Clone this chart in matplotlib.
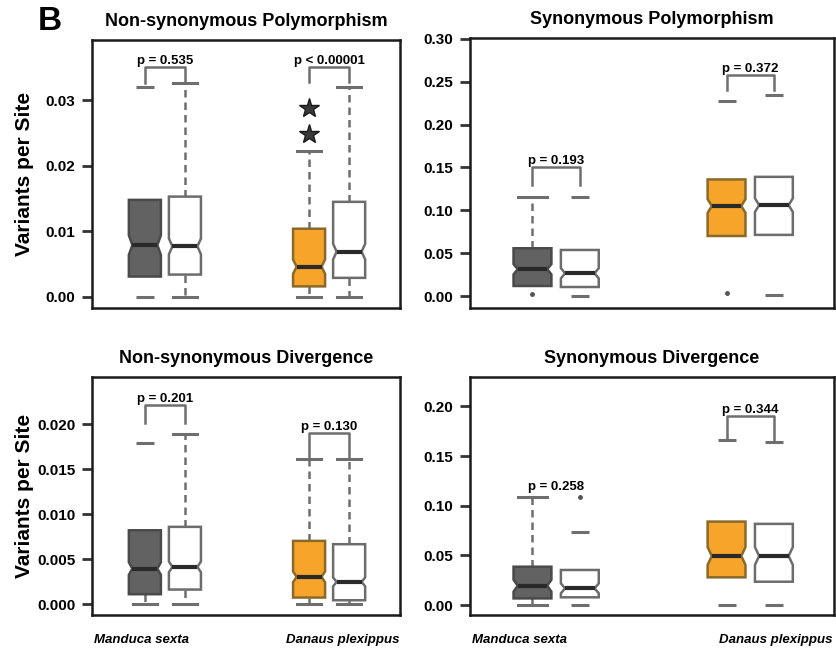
import matplotlib
matplotlib.use("Agg")
import matplotlib.pyplot as plt
from matplotlib.patches import Polygon

plt.rcParams['font.family'] = ['Liberation Sans', 'DejaVu Sans']

# order of boxes: M. sexta (filled), M. sexta (open), D. plexippus (filled), D. plexippus (open)
species = ["Manduca sexta", "Danaus plexippus"]
titles = ["Non-synonymous Polymorphism", "Synonymous Polymorphism",
          "Non-synonymous Divergence", "Synonymous Divergence"]

# Non-synonymous polymorphism
nsp_q1 = [0.0031, 0.0034, 0.0016, 0.0029]
nsp_med = [0.0079, 0.0077, 0.0046, 0.0069]
nsp_q3 = [0.0148, 0.0153, 0.0104, 0.0145]
nsp_notch = [0.0015, 0.0012, 0.0011, 0.0012]
nsp_whislo = [None, 0.0, 0.0, 0.0]
nsp_whishi = [None, 0.0327, 0.0222, 0.0320]
nsp_dash = [[0.0, 0.032], [], [], []]
nsp_dot = [[], [], [], []]
nsp_star = [[], [], [0.0248, 0.0288], []]
nsp_p = ["p = 0.535", "p < 0.00001"]
nsp_bar = [0.0351, 0.0351]
nsp_leg = [0.0327, 0.0328]

# Synonymous polymorphism
sp_q1 = [0.0117, 0.0105, 0.070, 0.0713]
sp_med = [0.0312, 0.0265, 0.105, 0.106]
sp_q3 = [0.0557, 0.0537, 0.136, 0.139]
sp_notch = [0.006, 0.006, 0.008, 0.008]
sp_whislo = [None, None, None, None]
sp_whishi = [0.115, None, None, None]
sp_dash = [[], [0.115, 0.0], [0.228], [0.234, 0.001]]
sp_dot = [[0.002], [], [0.003], []]
sp_star = [[], [], [], []]
sp_p = ["p = 0.193", "p = 0.372"]
sp_bar = [0.151, 0.258]
sp_leg = [0.130, 0.240]

# Non-synonymous divergence
nsd_q1 = [0.00111, 0.00163, 0.00074, 0.00044]
nsd_med = [0.00396, 0.00415, 0.00304, 0.00248]
nsd_q3 = [0.00822, 0.0086, 0.00704, 0.00667]
nsd_notch = [0.0007, 0.0006, 0.0006, 0.0005]
nsd_whislo = [0.0, 0.0, 0.0, 0.0]
nsd_whishi = [None, 0.01896, 0.0161, 0.0161]
nsd_dash = [[0.0179], [], [], []]
nsd_dot = [[], [], [], []]
nsd_star = [[], [], [], []]
nsd_p = ["p = 0.201", "p = 0.130"]
nsd_bar = [0.0221, 0.0190]
nsd_leg = [0.0201, 0.0164]

# Synonymous divergence
sd_q1 = [0.0067, 0.0078, 0.0279, 0.0235]
sd_med = [0.0195, 0.0168, 0.0494, 0.0494]
sd_q3 = [0.0386, 0.0353, 0.084, 0.0817]
sd_notch = [0.006, 0.005, 0.009, 0.009]
sd_whislo = [0.0003, None, None, None]
sd_whishi = [0.109, None, None, None]
sd_dash = [[], [0.0739, 0.0], [0.1656, 0.0], [0.164, 0.0]]
sd_dot = [[], [0.109], [], []]
sd_star = [[], [], [], []]
sd_p = ["p = 0.258", "p = 0.344"]
sd_bar = [None, 0.1905]
sd_leg = [0.113, 0.166]

positions = [1, 2, 5.1, 6.1]
fills = ["#626262", "white", "#F6A42A", "white"]
edges = ["#4a4a4a", "#6c6c6c", "#8a6a2a", "#6c6c6c"]
GREY = "#6e6e6e"

panels = [
    dict(q1=nsp_q1, med=nsp_med, q3=nsp_q3, notch=nsp_notch, wlo=nsp_whislo, whi=nsp_whishi,
         dash=nsp_dash, dot=nsp_dot, star=nsp_star, p=nsp_p, bar=nsp_bar, leg=nsp_leg,
         ylim=(-0.0017, 0.0392), ticks=[0, 0.01, 0.02, 0.03], fmt="%.2f"),
    dict(q1=sp_q1, med=sp_med, q3=sp_q3, notch=sp_notch, wlo=sp_whislo, whi=sp_whishi,
         dash=sp_dash, dot=sp_dot, star=sp_star, p=sp_p, bar=sp_bar, leg=sp_leg,
         ylim=(-0.014, 0.301), ticks=[0, 0.05, 0.10, 0.15, 0.20, 0.25, 0.30], fmt="%.2f"),
    dict(q1=nsd_q1, med=nsd_med, q3=nsd_q3, notch=nsd_notch, wlo=nsd_whislo, whi=nsd_whishi,
         dash=nsd_dash, dot=nsd_dot, star=nsd_star, p=nsd_p, bar=nsd_bar, leg=nsd_leg,
         ylim=(-0.0012, 0.02526), ticks=[0, 0.005, 0.010, 0.015, 0.020], fmt="%.3f"),
    dict(q1=sd_q1, med=sd_med, q3=sd_q3, notch=sd_notch, wlo=sd_whislo, whi=sd_whishi,
         dash=sd_dash, dot=sd_dot, star=sd_star, p=sd_p, bar=sd_bar, leg=sd_leg,
         ylim=(-0.010, 0.2295), ticks=[0, 0.05, 0.10, 0.15, 0.20], fmt="%.2f"),
]

W, H = 836, 651
fig = plt.figure(figsize=(W / 100, H / 100), dpi=100)

# axes rectangles in pixels: left, top, right, bottom
rects = [(92, 40, 400, 308), (470, 38, 834, 308), (92, 377, 400, 615), (470, 377, 834, 615)]


def draw_box(ax, x, q1, med, q3, nh, fc, ec, w=0.8):
    nw = w * 0.78
    lo, hi = med - nh, med + nh
    verts = [(x - w / 2, q1), (x - w / 2, lo), (x - nw / 2, med), (x - w / 2, hi),
             (x - w / 2, q3), (x + w / 2, q3), (x + w / 2, hi), (x + nw / 2, med),
             (x + w / 2, lo), (x + w / 2, q1)]
    ax.add_patch(Polygon(verts, closed=True, facecolor=fc, edgecolor=ec, lw=1.8, zorder=3))
    ax.plot([x - nw / 2, x + nw / 2], [med, med], color="#2a2a2a", lw=3, zorder=4,
            solid_capstyle="butt")


for k, d in enumerate(panels):
    l, t, r, b = rects[k]
    ax = fig.add_axes([l / W, 1 - b / H, (r - l) / W, (b - t) / H])
    for i, x in enumerate(positions):
        # whiskers
        for wv, base in ((d["wlo"][i], d["q1"][i]), (d["whi"][i], d["q3"][i])):
            if wv is None:
                continue
            ax.plot([x, x], [base, wv], color=GREY, lw=1.8, ls=(0, (3, 2)), zorder=2)
            ax.plot([x - 0.3, x + 0.3], [wv, wv], color=GREY, lw=2.2, zorder=2)
        draw_box(ax, x, d["q1"][i], d["med"][i], d["q3"][i], d["notch"][i], fills[i], edges[i])
        if d["dash"][i]:
            ax.plot([x] * len(d["dash"][i]), d["dash"][i], ls="none", marker="_",
                    ms=13, mew=2.2, color=GREY, zorder=3)
        if d["dot"][i]:
            ax.plot([x] * len(d["dot"][i]), d["dot"][i], ls="none", marker="o",
                    ms=2.5, color="#555555", zorder=3)
        if d["star"][i]:
            ax.plot([x] * len(d["star"][i]), d["star"][i], ls="none", marker="*",
                    ms=15, mfc="#3a3a3a", mec="#1a1a1a", zorder=3)
    # p-value brackets
    for g in range(2):
        xa, xb = positions[2 * g], positions[2 * g + 1]
        bar = d["bar"][g]
        if bar is not None:
            ax.plot([xa, xa, xb, xb], [d["leg"][g], bar, bar, d["leg"][g]],
                    color=GREY, lw=1.8, zorder=2)
            ty = bar
        else:
            ty = d["leg"][g]
        ax.text((xa + xb) / 2, ty, d["p"][g], ha="center", va="bottom",
                fontsize=9.5, fontweight="bold", zorder=5)
    ax.set_xlim(-0.32, 7.37)
    ax.set_ylim(*d["ylim"])
    ax.set_xticks([])
    ax.set_yticks(d["ticks"])
    ax.set_yticklabels([d["fmt"] % v for v in d["ticks"]], fontweight="bold", fontsize=11)
    ax.tick_params(axis="y", direction="out", length=7, width=2, color="#333333", pad=5)
    for s in ax.spines.values():
        s.set_linewidth(1.8)
        s.set_color("#1a1a1a")
    ax.set_title(titles[k], fontsize=13, fontweight="bold", pad=10)

# y labels
for yc in (174, 496):
    fig.text(25 / W, 1 - yc / H, "Variants per Site", rotation=90, ha="center", va="center",
             fontsize=15, fontweight="bold")

# species labels under bottom row
for xc, name in zip((142, 343, 519, 776), species * 2):
    fig.text(xc / W, 1 - 640 / H, name, ha="center", va="center", fontsize=9.5,
             fontstyle="italic", fontweight="bold")

fig.text(50 / W, 1 - 22 / H, "B", ha="center", va="center", fontsize=24, fontweight="bold")

fig.savefig("out.png", dpi=100)
